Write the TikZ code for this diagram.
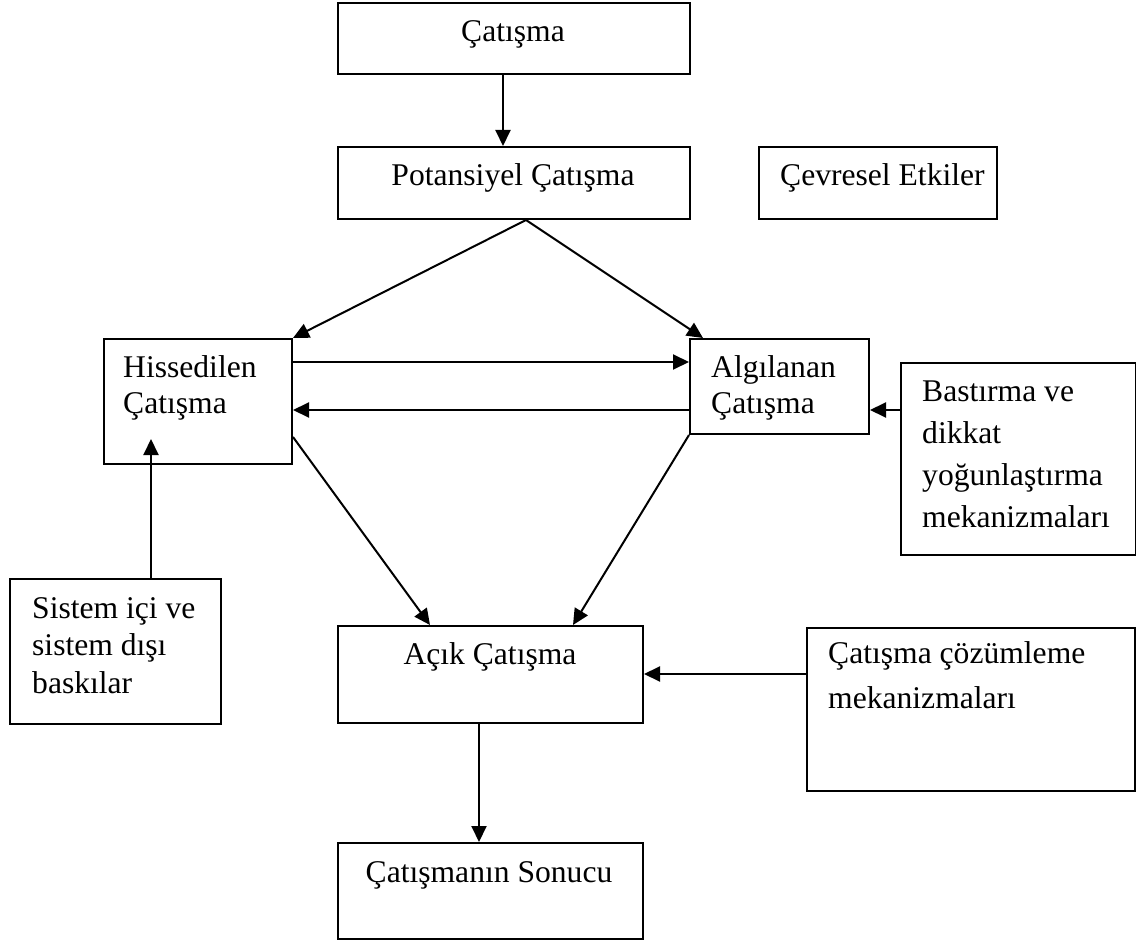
\documentclass[tikz,border=0pt]{standalone}
\usepackage{fontspec}
\setmainfont{Liberation Serif}
\usetikzlibrary{arrows.meta}
\tikzset{
  box/.style={draw,line width=2pt,inner sep=0pt,anchor=north west},
  txt/.style={inner sep=0pt,font=\fontsize{31.6pt}{#1}\selectfont},
  txt/.default=36pt,
  link/.style={line width=2pt,-{Triangle[width=15pt,length=16pt]}}
}
\begin{document}
\begin{tikzpicture}[x=1pt,y=-1pt]
   \useasboundingbox (0,0) rectangle (1136,944);
   \node [box,minimum width=352pt,minimum height=71pt] (catisma) at (337,2) {};
   \node [box,minimum width=352pt,minimum height=72pt] (potansiyel) at (337,146) {};
   \node [box,minimum width=238pt,minimum height=72pt] (cevresel) at (758,146) {};
   \node [box,minimum width=188pt,minimum height=125pt] (hissedilen) at (103,338) {};
   \node [box,minimum width=179pt,minimum height=95pt] (algilanan) at (689,338) {};
   \node [box,minimum width=235pt,minimum height=192pt] (bastirma) at (900,362) {};
   \node [box,minimum width=211pt,minimum height=145pt] (sistem) at (9,578) {};
   \node [box,minimum width=305pt,minimum height=97pt] (acik) at (337,625) {};
   \node [box,minimum width=328pt,minimum height=163pt] (cozum) at (806,627) {};
   \node [box,minimum width=305pt,minimum height=96pt] (sonuc) at (337,842) {};
   \node [txt,anchor=base] (catismaT) at (513,42) {Çatışma};
   \node [txt,anchor=base] (potansiyelT) at (513,186) {Potansiyel Çatışma};
   \node [txt,anchor=base west] (cevreselT) at (780,186) {Çevresel Etkiler};
   \node [txt=36pt,align=left,anchor=base west] (hissedilenT) at (123,413) {Hissedilen\\Çatışma};
   \node [txt=36pt,align=left,anchor=base west] (algilananT) at (711,413) {Algılanan\\Çatışma};
   \node [txt=41.7pt,align=left,anchor=base west] (bastirmaT) at (922,527) {Bastırma ve\\dikkat\\yoğunlaştırma\\mekanizmaları};
   \node [txt=37.5pt,align=left,anchor=base west] (sistemT) at (32,693) {Sistem içi ve\\sistem dışı\\baskılar};
   \node [txt,anchor=base] (acikT) at (490,664) {Açık Çatışma};
   \node [txt=45pt,align=left,anchor=base west] (cozumT) at (828,708) {Çatışma çözümleme\\mekanizmaları};
   \node [txt,anchor=base] (sonucT) at (489,882) {Çatışmanın Sonucu};
   \draw [link] ([xshift=-11pt]catisma.south) -- ([xshift=-11pt]potansiyel.north);
   \draw [link] ([xshift=12pt]potansiyel.south) -- (hissedilen.north east);
   \draw [link] ([xshift=12pt]potansiyel.south) -- ([xshift=14pt]algilanan.north west);
   \draw [link] ([yshift=-24pt]hissedilen.north east) -- ([yshift=-24pt]algilanan.north west);
   \draw [link] ([yshift=-72pt]algilanan.north west) -- ([yshift=-72pt]hissedilen.north east);
   \draw [link] ([yshift=-48pt]bastirma.north west) -- ([yshift=-72pt]algilanan.north east);
   \draw [link] ([xshift=142pt]sistem.north west) -- ([xshift=48pt,yshift=26pt]hissedilen.south west);
   \draw [link] ([yshift=28pt]hissedilen.south east) -- ([xshift=93pt]acik.north west);
   \draw [link] (algilanan.south west) -- ([xshift=236pt]acik.north west);
   \draw [link] ([yshift=-47pt]cozum.north west) -- ([yshift=-49pt]acik.north east);
   \draw [link] ([xshift=-11.5pt]acik.south) -- ([xshift=-11.5pt]sonuc.north);
\end{tikzpicture}
\end{document}
